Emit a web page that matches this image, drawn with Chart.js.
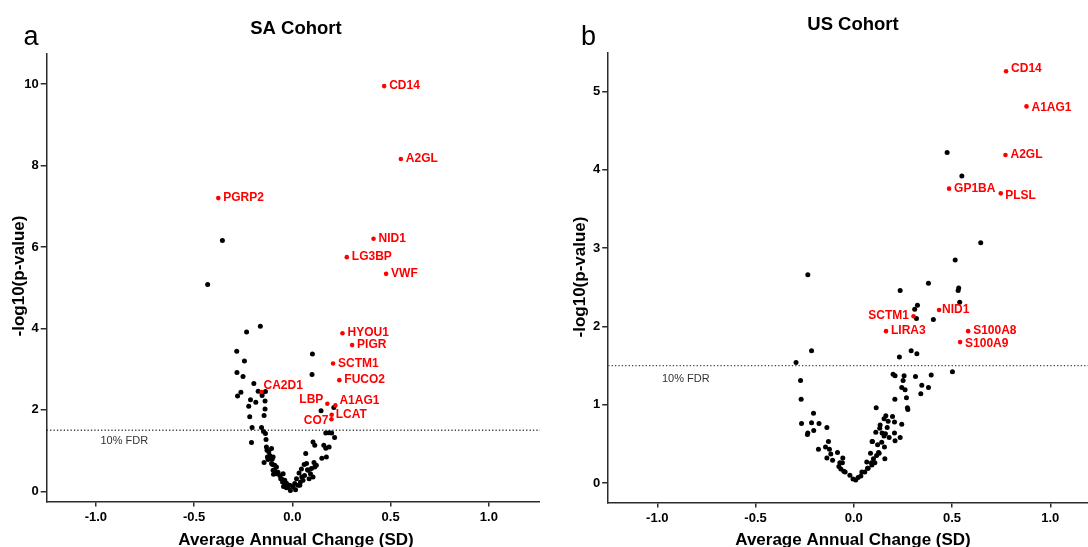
<!DOCTYPE html>
<html>
<head>
<meta charset="utf-8">
<script src="https://cdn.jsdelivr.net/npm/chart.js@4.4.1/dist/chart.umd.min.js"></script>
<style>
  html, body { margin: 0; padding: 0; background: #fff; overflow: hidden; }
  #wrap { position: relative; width: 1088px; height: 547px; }
  canvas { position: absolute; top: 0; display: block; }
</style>
</head>
<body>
<div id="wrap">
  <canvas id="cSA" width="540" height="547" style="left:0"></canvas>
  <canvas id="cUS" width="548" height="547" style="left:540px"></canvas>
</div>
<script>
// ---------------- DATA ----------------
const fdrThreshold = 1.5;           // -log10(p) at 10% FDR
const xTickValues = [-1, -0.5, 0, 0.5, 1];
const saYTicks = [0, 2, 4, 6, 8, 10];
const usYTicks = [0, 1, 2, 3, 4, 5];

// SA cohort – highlighted proteins
const saHitNames = ['CD14','A2GL','PGRP2','NID1','LG3BP','VWF','HYOU1','PIGR','SCTM1','FUCO2','CA2D1','LBP','A1AG1','LCAT','CO7'];
const saHitX = [0.467, 0.552, -0.377, 0.413, 0.277, 0.477, 0.255, 0.304, 0.207, 0.239, -0.157, 0.178, 0.219, 0.200, 0.199];
const saHitY = [9.95, 8.16, 7.20, 6.20, 5.75, 5.34, 3.88, 3.59, 3.14, 2.73, 2.44, 2.15, 2.11, 1.88, 1.77];

// SA cohort – other proteins
const saOtherX = [
  -0.356, -0.431, -0.163, -0.233, -0.283, -0.244, -0.282, -0.251, -0.196, 0.102, 0.100,
  -0.174, -0.154, -0.137, -0.262, -0.279, -0.213, -0.186, -0.154, -0.139, -0.222, -0.139, -0.217, -0.144, -0.205, -0.157, -0.147, -0.137, -0.208, -0.134,
  0.146, 0.211, 0.170, 0.186, 0.200, 0.215, 0.105, 0.114, 0.160, 0.170, 0.187, 0.068, 0.150, 0.173, 0.110, 0.114, 0.060, 0.046, 0.077, 0.092, 0.062, 0.034, 0.048, 0.021, 0.085, 0.041, 0.012, 0.029, 0.072, 0.080, 0.097, 0.122, 0.105, 0.054, 0.038, 0.004, 0.016, -0.010,
  -0.106, -0.120, -0.127, -0.103, -0.144, -0.101, -0.090, -0.079, -0.096, -0.059, -0.050, -0.039, -0.045, -0.030, -0.132, -0.129, -0.115, -0.098, -0.124, -0.106, -0.090, -0.081, -0.098, -0.073, -0.064, -0.047, -0.055, -0.039, -0.030, -0.013, -0.022
];
const saOtherY = [
  6.16, 5.08, 4.05, 3.91, 3.44, 3.20, 2.92, 2.82, 2.65, 3.37, 2.87,
  2.46, 2.41, 2.45, 2.43, 2.34, 2.25, 2.19, 2.35, 2.22, 2.09, 2.02, 1.83, 1.86, 1.57, 1.57, 1.47, 1.42, 1.20, 1.27,
  1.98, 2.06, 1.43, 1.44, 1.43, 1.32, 1.21, 1.13, 1.13, 1.06, 1.09, 0.93, 0.81, 0.84, 0.71, 0.60, 0.66, 0.55, 0.53, 0.43, 0.39, 0.45, 0.35, 0.31, 0.31, 0.23, 0.19, 0.15, 0.68, 0.52, 0.56, 0.64, 0.35, 0.27, 0.15, 0.11, 0.04, 0.02,
  1.05, 0.97, 0.84, 0.79, 0.71, 0.66, 0.52, 0.43, 0.42, 0.31, 0.23, 0.19, 0.12, 0.09, 1.09, 1.01, 0.88, 0.84, 0.78, 0.68, 0.64, 0.60, 0.52, 0.47, 0.39, 0.43, 0.31, 0.27, 0.20, 0.15, 0.11
];

// US cohort – highlighted proteins
const usHitNames = ['CD14','A1AG1','A2GL','GP1BA','PLSL','SCTM1','NID1','LIRA3','S100A8','S100A9'];
const usHitX = [0.775, 0.879, 0.772, 0.485, 0.748, 0.304, 0.434, 0.164, 0.582, 0.541];
const usHitY = [5.26, 4.81, 4.19, 3.76, 3.70, 2.13, 2.21, 1.94, 1.94, 1.80];

// US cohort – other proteins
const usOtherX = [
  0.475, 0.550, 0.646, 0.516, -0.234, 0.380, 0.534, 0.531, 0.236, 0.324, 0.310, 0.539, 0.319, 0.405,
  -0.215, 0.292, 0.321, 0.232, -0.294, 0.502,
  0.200, 0.210, 0.256, 0.314, 0.394, 0.251, -0.271, 0.346, 0.380, 0.244,
  0.261, 0.341, 0.268, 0.209, -0.268, 0.273, 0.275, 0.114, -0.205, 0.163,
  0.197, 0.154, 0.175, 0.207, -0.266, -0.215, -0.177, 0.244, 0.134, 0.132,
  0.170, -0.137, -0.204, -0.234, -0.236, 0.112, 0.144, 0.161, 0.207, 0.154,
  0.180, 0.236, 0.210, 0.093, -0.129, 0.142, 0.121, 0.156, -0.180, -0.144,
  -0.124, -0.117, 0.085, 0.129, 0.116, 0.158, -0.137, -0.108, -0.083, -0.056,
  0.066, 0.107, 0.092, 0.073, 0.041, -0.071, -0.076, -0.051, -0.058, -0.066,
  -0.044, -0.020, -0.004, 0.010, 0.022, 0.036, 0.056, 0.070, 0.090, 0.100,
  0.126, 0.095
];
const usOtherY = [
  4.22, 3.92, 3.07, 2.85, 2.66, 2.55, 2.49, 2.46, 2.46, 2.27, 2.22, 2.31, 2.10, 2.09,
  1.69, 1.69, 1.65, 1.61, 1.54, 1.42,
  1.39, 1.37, 1.37, 1.36, 1.38, 1.31, 1.31, 1.25, 1.22, 1.22,
  1.19, 1.14, 1.09, 1.07, 1.07, 0.96, 0.94, 0.96, 0.89, 0.86,
  0.85, 0.82, 0.79, 0.78, 0.76, 0.77, 0.76, 0.75, 0.74, 0.70,
  0.71, 0.71, 0.67, 0.64, 0.62, 0.65, 0.64, 0.63, 0.64, 0.60,
  0.58, 0.58, 0.54, 0.53, 0.53, 0.52, 0.49, 0.46, 0.43, 0.46,
  0.43, 0.37, 0.38, 0.38, 0.35, 0.31, 0.32, 0.29, 0.39, 0.32,
  0.27, 0.26, 0.23, 0.19, 0.14, 0.26, 0.21, 0.15, 0.26, 0.18,
  0.14, 0.10, 0.05, 0.04, 0.07, 0.09, 0.14, 0.19, 0.26, 0.31,
  0.39, 0.53
];

// ---------------- STYLE / LAYOUT ----------------
const FONT = "'Liberation Sans', Arial, Helvetica, sans-serif";
const RED = '#ff0000';
const AXIS = '#2b2b2b';

// label placement relative to the dot: [dx, dy, textAlign]
const saPlace = {
  CA2D1: [2, -6, 'left'], LBP: [-4, -4, 'right'], CO7: [-3, 1, 'right'],
  A1AG1: [4, -5, 'left'], LCAT: [4, 0, 'left'], HYOU1: [5, -1, 'left']
};
const usPlace = {
  CD14: [5, -3, 'left'], SCTM1: [-4.5, -1, 'right'], NID1: [3, 0, 'left'],
  PLSL: [4.5, 2, 'left'], S100A9: [5, 1.5, 'left'], A1AG1: [5, 1, 'left']
};

function makePanel(canvasId, cfg) {
  const black = cfg.otherX.map((x, i) => ({ x: x, y: cfg.otherY[i] }));
  const red = cfg.hitX.map((x, i) => ({ x: x, y: cfg.hitY[i] }));

  const textPlugin = {
    id: 'panelText_' + canvasId,
    afterDatasetsDraw(chart) {
      const ctx = chart.ctx, xs = chart.scales.x, ys = chart.scales.y;
      ctx.save();
      // point labels
      ctx.fillStyle = RED;
      ctx.font = 'bold 12px ' + FONT;
      ctx.textBaseline = 'middle';
      cfg.hitNames.forEach((name, i) => {
        const px = xs.getPixelForValue(cfg.hitX[i]);
        const py = ys.getPixelForValue(cfg.hitY[i]);
        const p = cfg.place[name] || [5, 0, 'left'];
        ctx.textAlign = p[2];
        ctx.fillText(name, px + p[0], py + p[1]);
      });
      // FDR label
      ctx.fillStyle = '#333';
      ctx.font = '11px ' + FONT;
      ctx.textAlign = 'center';
      ctx.fillText('10% FDR', xs.getPixelForValue(-0.855), ys.getPixelForValue(fdrThreshold) + cfg.fdrLabelDy);
      // panel title
      ctx.fillStyle = '#000';
      ctx.font = 'bold 18.5px ' + FONT;
      ctx.textBaseline = 'alphabetic';
      ctx.fillText(cfg.title, cfg.titleX, cfg.titleY);
      // panel letter
      ctx.font = '27px ' + FONT;
      ctx.fillText(cfg.letter, cfg.letterX, 45);
      // x axis title
      ctx.font = 'bold 17px ' + FONT;
      ctx.fillText('Average Annual Change (SD)', cfg.xTitleX, 545);
      // y axis title
      ctx.translate(cfg.yTitleX, cfg.yTitleY);
      ctx.rotate(-Math.PI / 2);
      ctx.textBaseline = 'middle';
      ctx.fillText('-log10(p-value)', 0, 0);
      ctx.restore();
    }
  };

  return new Chart(document.getElementById(canvasId), {
    type: 'scatter',
    data: {
      datasets: [
        {
          type: 'line',
          data: [{ x: cfg.xMin, y: fdrThreshold }, { x: cfg.xMax, y: fdrThreshold }],
          borderColor: '#444', borderWidth: 1.3, borderDash: [1.3, 2.1],
          pointRadius: 0, fill: false, order: 3
        },
        { data: black, backgroundColor: '#000', borderWidth: 0, pointRadius: 2.5, order: 2 },
        { data: red, backgroundColor: RED, borderWidth: 0, pointRadius: 2.3, order: 1 }
      ]
    },
    options: {
      responsive: false, animation: false, devicePixelRatio: 1,
      layout: { autoPadding: false, padding: { top: cfg.padTop, left: 0, right: 0, bottom: 0 } },
      plugins: { legend: { display: false }, tooltip: { enabled: false }, title: { display: false } },
      scales: {
        x: {
          type: 'linear', min: cfg.xMin, max: cfg.xMax,
          afterFit(s) { s.height = cfg.xAxisH; s.paddingLeft = 0; s.paddingRight = 0; s.paddingTop = 0; s.paddingBottom = 0; },
          afterBuildTicks(s) { s.ticks = xTickValues.map(v => ({ value: v })); },
          ticks: {
            callback: v => Number(v).toFixed(1),
            font: { family: FONT, size: 13, weight: 'bold' }, color: '#000',
            padding: 3, maxRotation: 0, autoSkip: false
          },
          grid: { drawOnChartArea: false, drawTicks: true, tickLength: 5, color: AXIS, lineWidth: 1.5 },
          border: { display: true, color: AXIS, width: 1.5 }
        },
        y: {
          type: 'linear', min: cfg.yMin, max: cfg.yMax,
          afterFit(s) { s.width = cfg.yAxisW; s.paddingLeft = 0; s.paddingRight = 0; s.paddingTop = 0; s.paddingBottom = 0; },
          afterBuildTicks(s) { s.ticks = cfg.yTicks.map(v => ({ value: v })); },
          ticks: {
            callback: v => String(v),
            font: { family: FONT, size: 13, weight: 'bold' }, color: '#000',
            padding: 2, autoSkip: false
          },
          grid: { drawOnChartArea: false, drawTicks: true, tickLength: 6, color: AXIS, lineWidth: 1.5 },
          border: { display: true, color: AXIS, width: 1.5 }
        }
      }
    },
    plugins: [textPlugin]
  });
}

makePanel('cSA', {
  hitNames: saHitNames, hitX: saHitX, hitY: saHitY, otherX: saOtherX, otherY: saOtherY,
  place: saPlace, yTicks: saYTicks,
  xMin: -1.25, xMax: 1.26, yMin: -0.25, yMax: 10.75,
  padTop: 53.5, xAxisH: 45.5, yAxisW: 46.7,
  title: 'SA Cohort', titleX: 296, titleY: 34,
  letter: 'a', letterX: 31, xTitleX: 296, yTitleX: 19, yTitleY: 276, fdrLabelDy: 11
});

makePanel('cUS', {
  hitNames: usHitNames, hitX: usHitX, hitY: usHitY, otherX: usOtherX, otherY: usOtherY,
  place: usPlace, yTicks: usYTicks,
  xMin: -1.25, xMax: 1.192, yMin: -0.25, yMax: 5.5,
  padTop: 52.4, xAxisH: 44.4, yAxisW: 68.2,
  title: 'US Cohort', titleX: 313, titleY: 30,
  letter: 'b', letterX: 48.5, xTitleX: 313, yTitleX: 40, yTitleY: 277, fdrLabelDy: 13
});
</script>
</body>
</html>
